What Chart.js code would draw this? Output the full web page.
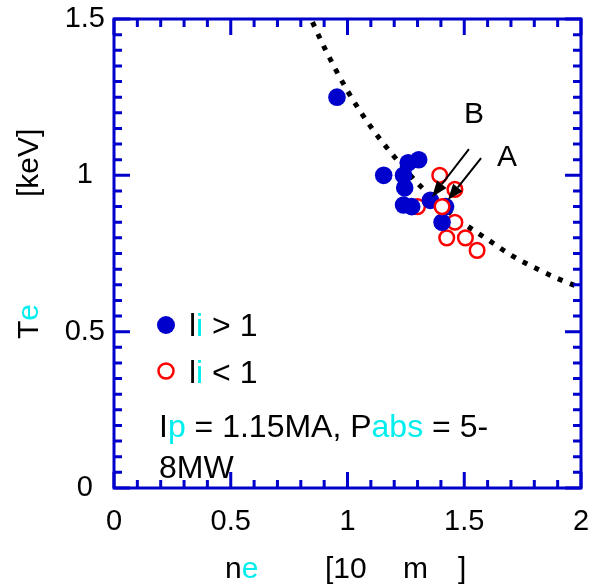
<!DOCTYPE html>
<html lang="en">
<head>
<meta charset="UTF-8" />
<title>Te vs ne</title>
<script src="https://cdn.jsdelivr.net/npm/chart.js"></script>
<style>
  body { margin: 0; background: #fff; }
  #wrap { width: 593px; height: 585px; }
</style>
</head>
<body>
<div id="wrap"><canvas id="teChart" width="593" height="585"></canvas></div>
<script>
  // li > 1 shots (ne in 1e19 m^-3, Te in keV)
  const liHighNe = [0.955, 1.155, 1.26, 1.305, 1.24, 1.245, 1.24, 1.275, 1.355, 1.42, 1.405];
  const liHighTe = [1.25, 1.0, 1.04, 1.05, 1.0, 0.96, 0.905, 0.90, 0.92, 0.90, 0.85];

  // li < 1 shots, the ones partly hidden by the filled markers
  const liLowNe = [1.395, 1.46, 1.30, 1.46, 1.425, 1.505, 1.555];
  const liLowTe = [1.0, 0.955, 0.90, 0.85, 0.80, 0.80, 0.76];
  // li < 1 shot drawn above the cluster
  const liLowFrontNe = [1.405];
  const liLowFrontTe = [0.90];

  // dotted trend line
  const trendNe = [0.85, 0.9, 1.0, 1.1, 1.2, 1.3, 1.4, 1.5, 1.6, 1.7, 1.8, 1.9, 2.0];
  const trendTe = [1.49, 1.41, 1.27, 1.155, 1.06, 0.975, 0.905, 0.845, 0.795, 0.745, 0.705, 0.67, 0.64];

  const xTicks = [0, 0.5, 1, 1.5, 2];
  const yTicks = [0, 0.5, 1, 1.5];

  const AXIS_BLUE = '#0000cc';
  const CYAN = '#00eeee';
  const FONT = 'Arial, "Liberation Sans", sans-serif';

  const pts = (xs, ys) => xs.map((x, i) => ({ x: x, y: ys[i] }));

  // arrows marking shots A and B
  const arrows = [
    { label: 'B', from: [1.52, 1.084], to: [1.362, 0.931], text: [1.542, 1.193] },
    { label: 'A', from: [1.572, 1.055], to: [1.43, 0.921], text: [1.683, 1.055] }
  ];

  function drawRuns(ctx, runs, x, y) {
    runs.forEach(([txt, col]) => {
      ctx.fillStyle = col;
      ctx.fillText(txt, x, y);
      x += ctx.measureText(txt).width;
    });
  }

  // keep the plot box fixed: no extra room for overhanging tick labels
  function fixScale(s, key, size) {
    s[key] = size;
    s.paddingLeft = 0; s.paddingRight = 0;
    s.paddingTop = 0; s.paddingBottom = 0;
  }

  // boxed frame with inward ticks on all four sides
  const framePlugin = {
    id: 'frame',
    afterDatasetsDraw(chart) {
      const { ctx, chartArea: a, scales: { x, y } } = chart;
      ctx.save();
      ctx.strokeStyle = AXIS_BLUE;
      ctx.lineWidth = 3;
      ctx.lineCap = 'butt';
      ctx.beginPath();
      for (let i = 0; i <= 20; i++) {
        const px = x.getPixelForValue(i * 0.1);
        const len = i % 5 === 0 ? 16 : 8;
        ctx.moveTo(px, a.bottom); ctx.lineTo(px, a.bottom - len);
        ctx.moveTo(px, a.top); ctx.lineTo(px, a.top + len);
      }
      for (let i = 0; i <= 30; i++) {
        const py = y.getPixelForValue(i * 0.05);
        const len = i % 10 === 0 ? 16 : 8;
        ctx.moveTo(a.left, py); ctx.lineTo(a.left + len, py);
        ctx.moveTo(a.right, py); ctx.lineTo(a.right - len, py);
      }
      ctx.stroke();
      ctx.strokeRect(a.left, a.top, a.right - a.left, a.bottom - a.top);
      ctx.restore();
    }
  };

  // arrows, legend, notes and axis titles
  const textPlugin = {
    id: 'texts',
    afterDraw(chart) {
      const { ctx, scales: { x, y } } = chart;
      ctx.save();

      arrows.forEach(ar => {
        const x0 = x.getPixelForValue(ar.from[0]), y0 = y.getPixelForValue(ar.from[1]);
        const x1 = x.getPixelForValue(ar.to[0]), y1 = y.getPixelForValue(ar.to[1]);
        const ang = Math.atan2(y1 - y0, x1 - x0);
        const hl = 16, hw = 6;
        const bx = x1 - hl * Math.cos(ang), by = y1 - hl * Math.sin(ang);
        ctx.strokeStyle = '#000';
        ctx.lineWidth = 2;
        ctx.beginPath();
        ctx.moveTo(x0, y0); ctx.lineTo(bx, by);
        ctx.stroke();
        ctx.fillStyle = '#000';
        ctx.beginPath();
        ctx.moveTo(x1, y1);
        ctx.lineTo(bx + hw * Math.sin(ang), by - hw * Math.cos(ang));
        ctx.lineTo(bx - hw * Math.sin(ang), by + hw * Math.cos(ang));
        ctx.closePath();
        ctx.fill();
        ctx.font = '30px ' + FONT;
        ctx.textAlign = 'center';
        ctx.textBaseline = 'middle';
        ctx.fillText(ar.label, x.getPixelForValue(ar.text[0]), y.getPixelForValue(ar.text[1]));
      });

      // legend
      ctx.textAlign = 'left';
      ctx.textBaseline = 'alphabetic';
      ctx.fillStyle = AXIS_BLUE;
      ctx.beginPath();
      ctx.arc(166, 325, 9, 0, Math.PI * 2);
      ctx.fill();
      ctx.strokeStyle = '#ff0000';
      ctx.lineWidth = 2.5;
      ctx.beginPath();
      ctx.arc(166, 371, 7.5, 0, Math.PI * 2);
      ctx.stroke();
      ctx.font = '32px ' + FONT;
      drawRuns(ctx, [['l', '#000'], ['i', CYAN], [' > 1', '#000']], 189, 336);
      drawRuns(ctx, [['l', '#000'], ['i', CYAN], [' < 1', '#000']], 189, 383);

      // discharge conditions
      ctx.font = '32px ' + FONT;
      drawRuns(ctx, [['I', '#000'], ['p', CYAN], [' = 1.15MA, P', '#000'], ['abs', CYAN], [' = 5-', '#000']], 159, 437);
      drawRuns(ctx, [['8MW', '#000']], 159, 478);

      // x axis title
      ctx.font = '30px ' + FONT;
      drawRuns(ctx, [['n', '#000'], ['e', CYAN]], 225, 578);
      drawRuns(ctx, [['[10', '#000']], 325, 578);
      drawRuns(ctx, [['m', '#000']], 403, 578);
      drawRuns(ctx, [[']', '#000']], 458, 578);

      // y axis title
      ctx.translate(37.5, 339);
      ctx.rotate(-Math.PI / 2);
      drawRuns(ctx, [['T', '#000'], ['e', CYAN]], 0, 0);
      drawRuns(ctx, [['[keV]', '#000']], 142, 0);
      ctx.restore();
    }
  };

  new Chart(document.getElementById('teChart'), {
    type: 'scatter',
    data: {
      datasets: [
        {
          label: 'li < 1 front',
          data: pts(liLowFrontNe, liLowFrontTe),
          order: 1,
          pointRadius: 7.3,
          pointBorderWidth: 2.5,
          pointBorderColor: '#ff0000',
          pointBackgroundColor: '#ffffff'
        },
        {
          label: 'li > 1',
          data: pts(liHighNe, liHighTe),
          order: 2,
          pointRadius: 8.8,
          pointBorderWidth: 0,
          pointBackgroundColor: AXIS_BLUE
        },
        {
          label: 'li < 1',
          data: pts(liLowNe, liLowTe),
          order: 3,
          pointRadius: 7.3,
          pointBorderWidth: 2.5,
          pointBorderColor: '#ff0000',
          pointBackgroundColor: '#ffffff'
        },
        {
          label: 'trend',
          type: 'line',
          data: pts(trendNe, trendTe),
          order: 4,
          showLine: true,
          pointRadius: 0,
          borderColor: '#000',
          borderWidth: 5,
          borderDash: [5, 8],
          cubicInterpolationMode: 'monotone',
          fill: false
        }
      ]
    },
    options: {
      responsive: false,
      animation: false,
      layout: { padding: { left: 0, right: 12, top: 19, bottom: 0 } },
      plugins: { legend: { display: false }, tooltip: { enabled: false } },
      scales: {
        x: {
          type: 'linear',
          min: 0, max: 2,
          afterBuildTicks: s => { s.ticks = xTicks.map(v => ({ value: v })); },
          afterFit: s => fixScale(s, 'height', 97),
          grid: { display: false, drawTicks: false },
          border: { display: false },
          ticks: {
            color: '#000', font: { size: 29, family: FONT }, padding: 17, maxRotation: 0,
            callback: v => String(v)
          }
        },
        y: {
          type: 'linear',
          min: 0, max: 1.5,
          afterBuildTicks: s => { s.ticks = yTicks.map(v => ({ value: v })); },
          afterFit: s => fixScale(s, 'width', 114),
          grid: { display: false, drawTicks: false },
          border: { display: false },
          ticks: {
            color: '#000', font: { size: 29, family: FONT }, padding: 9,
            crossAlign: 'center',
            callback: v => String(v)
          }
        }
      }
    },
    plugins: [framePlugin, textPlugin]
  });
</script>
</body>
</html>
